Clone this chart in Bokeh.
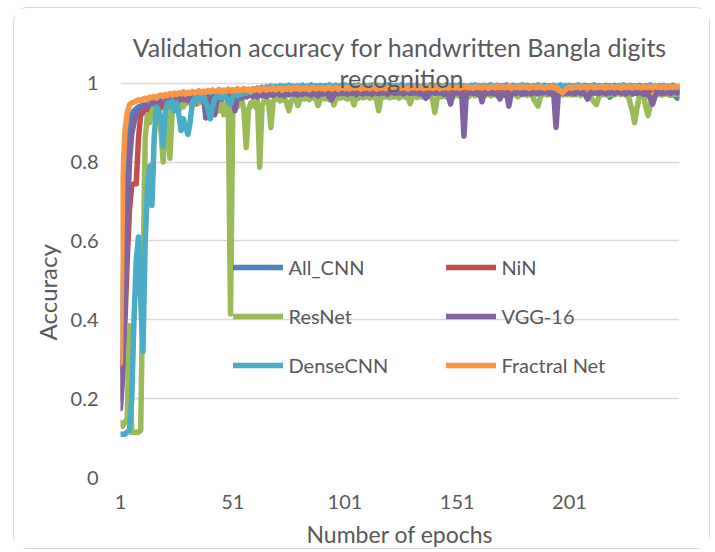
from bokeh.plotting import figure
from bokeh.models import Range1d, Label, Legend, LegendItem, Title
from bokeh.embed import file_html
from bokeh.resources import INLINE

epochs = list(range(1, 251))
x_ticks = [1, 51, 101, 151, 201]
y_ticks = [0, 0.2, 0.4, 0.6, 0.8, 1.0]
y_tick_labels = {0: "0", 0.2: "0.2", 0.4: "0.4", 0.6: "0.6", 0.8: "0.8", 1.0: "1"}

all_cnn = [
    .27, .45, .68, .82, .89, .92, .93, .935, .94, .942,
    .945, .94, .948, .945, .95, .947, .952, .95, .955, .951,
    .956, .953, .958, .955, .96, .957, .962, .958, .963, .96,
    .962, .958, .965, .961, .966, .963, .967, .964, .968, .965,
    .967, .969, .965, .97, .966, .971, .968, .97, .967, .972,
    .969, .971, .967, .972, .97, .968, .973, .969, .971, .974,
    .97, .972, .975, .969, .973, .971, .974, .97, .975, .972,
    .974, .97, .976, .972, .975, .971, .974, .977, .972, .975,
    .973, .976, .971, .975, .977, .972, .975, .973, .977, .974,
    .976, .972, .975, .978, .973, .976, .974, .977, .972, .975,
    .977, .973, .976, .974, .978, .972, .976, .975, .977, .973,
    .976, .978, .974, .977, .973, .976, .978, .974, .977, .975,
    .973, .977, .975, .978, .974, .976, .972, .977, .975, .978,
    .974, .977, .975, .973, .978, .975, .977, .974, .976, .978,
    .975, .973, .977, .975, .978, .974, .976, .977, .973, .976,
    .978, .974, .977, .975, .973, .977, .975, .978, .974, .976,
    .977, .973, .976, .978, .974, .977, .975, .972, .976, .978,
    .974, .977, .975, .978, .973, .976, .974, .977, .975, .972,
    .976, .978, .974, .977, .975, .973, .977, .975, .978, .974,
    .976, .973, .977, .975, .978, .974, .976, .977, .973, .976,
    .978, .974, .977, .975, .972, .976, .978, .974, .977, .975,
    .973, .977, .975, .978, .974, .976, .972, .975, .965, .974,
    .977, .975, .978, .973, .976, .974, .977, .975, .972, .976,
    .978, .974, .976, .973, .977, .975, .978, .972, .976, .974,
    .977, .973, .976, .974, .972, .97, .975, .968, .962, .972,
]

nin = [
    .2, .28, .4, .55, .68, .74, .745, .745, .86, .92,
    .925, .925, .935, .93, .94, .935, .945, .94, .938, .945,
    .942, .948, .94, .95, .945, .952, .948, .955, .95, .953,
    .956, .95, .958, .954, .948, .957, .96, .955, .962, .958,
    .963, .958, .965, .96, .967, .962, .968, .964, .97, .965,
    .968, .971, .966, .972, .969, .973, .968, .974, .97, .972,
    .975, .97, .973, .976, .971, .974, .977, .972, .975, .973,
    .976, .974, .978, .973, .976, .979, .974, .977, .975, .978,
    .975, .979, .976, .978, .974, .977, .98, .976, .978, .975,
    .979, .976, .98, .977, .975, .979, .981, .977, .979, .976,
    .98, .977, .982, .978, .98, .976, .981, .979, .977, .981,
    .978, .982, .979, .981, .977, .98, .982, .978, .981, .979,
    .982, .978, .981, .979, .983, .978, .981, .98, .982, .979,
    .981, .983, .978, .982, .98, .983, .979, .981, .984, .98,
    .982, .979, .983, .98, .982, .984, .979, .982, .98, .983,
    .981, .984, .98, .982, .983, .979, .982, .984, .98, .983,
    .981, .983, .98, .984, .982, .979, .983, .981, .984, .98,
    .983, .981, .984, .98, .982, .985, .981, .983, .98, .984,
    .982, .98, .984, .981, .983, .985, .98, .982, .984, .981,
    .983, .98, .985, .982, .984, .981, .983, .985, .98, .983,
    .981, .984, .982, .985, .98, .983, .981, .984, .982, .985,
    .98, .983, .985, .981, .984, .982, .98, .985, .983, .981,
    .984, .982, .985, .98, .983, .981, .984, .982, .985, .981,
    .983, .985, .98, .984, .982, .983, .981, .985, .982, .984,
    .981, .983, .985, .98, .984, .982, .983, .985, .981, .984,
]

resnet = [
    .14, .13, .14, .15, .385, .115, .115, .115, .115, .12,
    .5, .86, .92, .9, .93, .94, .91, .93, .88, .8,
    .9, .935, .81, .925, .945, .95, .93, .952, .94, .955,
    .95, .958, .942, .955, .96, .95, .962, .955, .96, .958,
    .962, .955, .96, .95, .93, .955, .92, .94, .955, .415,
    .93, .955, .94, .95, .96, .93, .837, .93, .95, .955,
    .94, .955, .787, .94, .955, .962, .95, .888, .955, .96,
    .962, .955, .958, .963, .95, .93, .955, .962, .96, .943,
    .958, .963, .96, .965, .958, .962, .964, .96, .943, .962,
    .965, .96, .963, .958, .966, .945, .96, .964, .962, .967,
    .963, .96, .966, .962, .945, .965, .962, .967, .963, .965,
    .968, .962, .966, .964, .96, .93, .962, .967, .965, .968,
    .963, .967, .965, .968, .962, .966, .969, .964, .967, .948,
    .966, .969, .964, .968, .965, .967, .963, .969, .966, .96,
    .926, .96, .968, .966, .97, .965, .968, .971, .966, .969,
    .972, .967, .97, .968, .972, .966, .97, .973, .968, .971,
    .969, .973, .967, .971, .974, .968, .972, .97, .973, .969,
    .972, .97, .974, .968, .972, .975, .97, .966, .973, .971,
    .974, .969, .972, .975, .96, .95, .942, .965, .972, .974,
    .97, .973, .971, .975, .969, .972, .974, .97, .973, .971,
    .975, .97, .973, .971, .974, .969, .973, .975, .97, .972,
    .96, .952, .946, .965, .973, .971, .975, .969, .972, .974,
    .97, .973, .975, .971, .974, .97, .972, .95, .93, .9,
    .935, .965, .972, .97, .94, .918, .945, .97, .973, .971,
    .974, .97, .972, .975, .971, .973, .97, .974, .972, .975,
]

vgg16 = [
    .175, .26, .45, .65, .8, .87, .9, .92, .93, .935,
    .94, .945, .94, .95, .948, .955, .95, .957, .952, .958,
    .955, .96, .953, .962, .957, .96, .955, .963, .958, .961,
    .956, .964, .959, .962, .955, .963, .958, .965, .912, .958,
    .962, .955, .92, .962, .966, .96, .968, .963, .958, .965,
    .96, .93, .962, .967, .962, .97, .965, .968, .972, .966,
    .97, .965, .972, .968, .974, .966, .971, .975, .969, .973,
    .976, .97, .974, .968, .975, .971, .977, .972, .974, .97,
    .976, .972, .978, .973, .975, .97, .977, .973, .968, .975,
    .972, .977, .974, .965, .958, .97, .976, .973, .978, .974,
    .977, .972, .978, .974, .976, .971, .978, .975, .973, .977,
    .974, .978, .972, .976, .979, .973, .977, .975, .978, .972,
    .976, .979, .974, .977, .975, .978, .973, .976, .979, .974,
    .977, .975, .978, .973, .976, .97, .962, .968, .976, .978,
    .974, .977, .975, .978, .972, .976, .97, .947, .972, .975,
    .977, .974, .972, .866, .97, .975, .978, .974, .977, .972,
    .975, .953, .974, .976, .974, .978, .973, .976, .97, .96,
    .975, .97, .976, .942, .973, .976, .974, .978, .975, .972,
    .977, .974, .978, .973, .976, .979, .974, .977, .975, .978,
    .977, .974, .978, .972, .888, .97, .976, .978, .974, .977,
    .975, .978, .973, .976, .979, .974, .977, .972, .96, .972,
    .977, .975, .978, .974, .976, .979, .973, .977, .975, .978,
    .974, .977, .979, .975, .978, .973, .976, .979, .975, .977,
    .974, .978, .975, .972, .976, .97, .962, .947, .965, .976,
    .978, .974, .977, .975, .979, .974, .977, .978, .975, .979,
]

dense_cnn = [
    .11, .11, .11, .115, .12, .2, .4, .55, .61, .45,
    .32, .6, .73, .79, .69, .86, .94, .93, .91, .84,
    .93, .95, .94, .955, .93, .95, .92, .88, .91, .89,
    .87, .9, .95, .962, .955, .965, .958, .967, .95, .935,
    .91, .94, .96, .966, .972, .962, .97, .966, .952, .947,
    .965, .972, .968, .978, .972, .98, .975, .983, .977, .986,
    .982, .988, .984, .99, .986, .991, .987, .993, .989, .992,
    .988, .994, .99, .993, .989, .995, .991, .993, .99, .994,
    .991, .995, .989, .993, .992, .996, .99, .994, .991, .995,
    .99, .994, .992, .996, .989, .993, .995, .99, .994, .992,
    .996, .991, .994, .99, .995, .992, .996, .99, .993, .995,
    .991, .994, .996, .99, .993, .995, .991, .994, .992, .996,
    .99, .994, .992, .995, .991, .996, .993, .99, .995, .992,
    .994, .991, .996, .992, .99, .995, .993, .991, .996, .992,
    .994, .99, .995, .993, .991, .996, .992, .994, .99, .995,
    .992, .996, .991, .994, .993, .99, .995, .992, .996, .991,
    .994, .992, .995, .99, .994, .996, .991, .993, .995, .99,
    .994, .992, .996, .991, .993, .995, .99, .994, .992, .996,
    .991, .995, .993, .99, .994, .992, .996, .991, .993, .995,
    .99, .994, .992, .995, .991, .993, .996, .99, .994, .992,
    .995, .991, .994, .992, .996, .99, .993, .995, .991, .994,
    .992, .996, .99, .994, .993, .991, .995, .992, .994, .99,
    .995, .992, .994, .991, .996, .993, .99, .995, .992, .994,
    .991, .995, .993, .99, .994, .992, .996, .991, .993, .99,
    .994, .992, .995, .99, .993, .991, .995, .992, .989, .991,
]

fractal_net = [
    .29, .76, .88, .925, .945, .95, .952, .955, .958, .956,
    .96, .962, .958, .965, .963, .967, .962, .968, .97, .966,
    .972, .968, .974, .97, .975, .971, .976, .973, .978, .972,
    .977, .974, .979, .975, .978, .981, .976, .98, .977, .982,
    .978, .983, .979, .981, .984, .978, .983, .98, .985, .979,
    .984, .981, .986, .98, .983, .987, .982, .985, .979, .986,
    .983, .987, .981, .985, .988, .982, .986, .984, .989, .983,
    .986, .988, .982, .987, .985, .989, .983, .988, .986, .99,
    .984, .988, .985, .989, .983, .987, .99, .985, .988, .986,
    .989, .984, .988, .99, .985, .987, .989, .984, .988, .991,
    .986, .989, .985, .99, .987, .988, .991, .985, .989, .987,
    .99, .986, .988, .991, .985, .989, .987, .99, .986, .989,
    .988, .991, .986, .989, .99, .987, .991, .988, .985, .99,
    .988, .991, .987, .989, .99, .986, .99, .988, .991, .987,
    .989, .991, .986, .99, .988, .991, .987, .989, .992, .988,
    .99, .987, .991, .989, .992, .988, .99, .987, .991, .989,
    .99, .988, .992, .989, .987, .991, .99, .988, .992, .989,
    .991, .988, .99, .992, .987, .99, .989, .991, .988, .992,
    .989, .991, .987, .99, .992, .988, .991, .989, .99, .987,
    .991, .989, .992, .988, .99, .985, .98, .976, .982, .988,
    .99, .987, .991, .989, .992, .988, .99, .991, .987, .99,
    .992, .988, .991, .989, .99, .992, .987, .991, .989, .992,
    .988, .99, .991, .987, .992, .989, .99, .991, .988, .992,
    .989, .991, .988, .992, .99, .989, .991, .988, .992, .99,
    .991, .989, .992, .988, .99, .991, .989, .992, .99, .993,
]

series_names = ["All_CNN", "NiN", "ResNet", "VGG-16", "DenseCNN", "Fractral Net"]
series_values = [all_cnn, nin, resnet, vgg16, dense_cnn, fractal_net]
series_colors = ["#4F81BD", "#C0504D", "#9BBB59", "#8064A2", "#4BACC6", "#F79646"]

title_lines = ["Validation accuracy for handwritten Bangla digits", "recognition"]
x_title = "Number of epochs"
y_title = "Accuracy"

TEXT = "#595959"
FONT = "Lato"

p = figure(width=697, height=542, output_backend="svg", toolbar_location=None,
           x_range=Range1d(1, 250), y_range=Range1d(0, 1.045),
           min_border_left=106, min_border_right=32,
           min_border_top=57, min_border_bottom=73)
p.styles = {"border": "1px solid #D9D9D9", "border-radius": "14px",
            "margin-left": "13px", "margin-top": "7px"}
p.outline_line_color = None
p.background_fill_color = "white"
p.border_fill_color = "white"

# chart title (first line above the frame)
p.title.text = title_lines[0]
p.title.align = "center"
p.title.text_font = FONT
p.title.text_font_size = "25px"
p.title.text_font_style = "normal"
p.title.text_color = TEXT
p.title.standoff = 7

p.xgrid.grid_line_color = None
p.ygrid.grid_line_color = "#D9D9D9"
p.ygrid.grid_line_width = 1.3

p.xaxis.ticker = x_ticks
p.yaxis.ticker = y_ticks
p.yaxis.major_label_overrides = y_tick_labels
for ax in (p.xaxis[0], p.yaxis[0]):
    ax.axis_line_color = None
    ax.major_tick_line_color = None
    ax.minor_tick_line_color = None
    ax.major_tick_in = 0
    ax.major_tick_out = 0
    ax.major_label_text_font = FONT
    ax.major_label_text_font_size = "20px"
    ax.major_label_text_color = TEXT
p.yaxis.major_label_standoff = 22
p.xaxis.major_label_standoff = 17

p.xaxis.axis_label = x_title
p.xaxis.axis_label_text_font = FONT
p.xaxis.axis_label_text_font_size = "23px"
p.xaxis.axis_label_text_font_style = "normal"
p.xaxis.axis_label_text_color = TEXT
p.xaxis.axis_label_standoff = 8

p.add_layout(Title(text=y_title, align="left", offset=137, standoff=12,
                   text_font=FONT, text_font_size="24px", text_font_style="normal",
                   text_color=TEXT), "left")

renderers = []
for name, vals, col in zip(series_names, series_values, series_colors):
    r = p.line(epochs, vals, line_color=col, line_width=5.5,
               line_cap="round", line_join="round")
    renderers.append(r)

leg_kw = dict(orientation="vertical", background_fill_alpha=0, border_line_alpha=0,
              padding=0, margin=0, spacing=21, glyph_width=50, glyph_height=28,
              label_height=28, label_standoff=6, label_text_font=FONT,
              label_text_font_size="20px", label_text_color=TEXT)
leg1 = Legend(items=[LegendItem(label=series_names[i], renderers=[renderers[i]]) for i in (0, 2, 4)],
              location=(112.5, 97.7), **leg_kw)
leg2 = Legend(items=[LegendItem(label=series_names[i], renderers=[renderers[i]]) for i in (1, 3, 5)],
              location=(325.5, 97.7), **leg_kw)
p.add_layout(leg1)
p.add_layout(leg2)

# second title line overlaps the top of the plot area, as in the reference
p.add_layout(Label(x=281, y=399.7, x_units="screen", y_units="screen", text=title_lines[1],
                   text_align="center", text_baseline="middle", text_font=FONT,
                   text_font_size="25px", text_color=TEXT))

open("out.html", "w").write(file_html(p, INLINE))
